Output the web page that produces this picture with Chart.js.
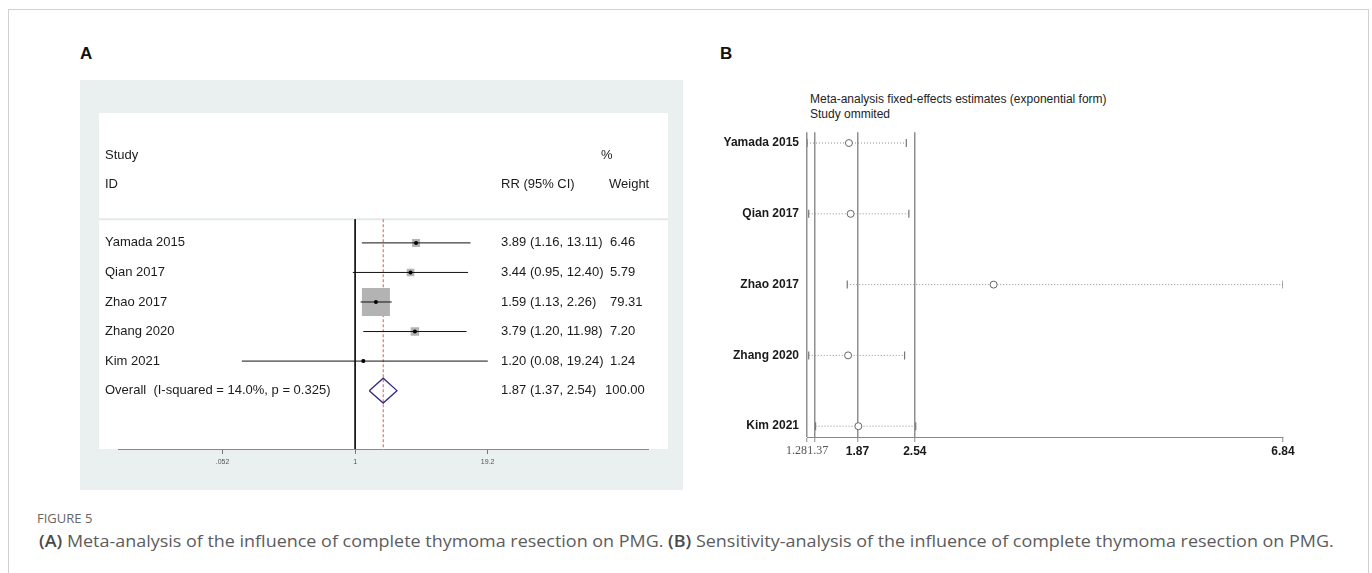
<!DOCTYPE html>
<html>
<head>
<meta charset="utf-8">
<script src="https://cdn.jsdelivr.net/npm/chart.js@4/dist/chart.umd.min.js"></script>
<style>
body{margin:0;width:1372px;height:573px;background:#fff;position:relative;overflow:hidden;font-family:"Liberation Sans",Arial,sans-serif}
#frame{position:absolute;left:8px;top:9px;width:1359px;height:620px;border:1px solid #d2d2d2}
.lab{position:absolute;font-weight:bold;font-size:17px;line-height:17px;color:#111}
#boxA{position:absolute;left:80px;top:80px;width:603px;height:410px;background:#e9f0ef}
#whiteA{position:absolute;left:99px;top:113px;width:569px;height:336px;background:#fff}
#chartA{position:absolute;left:99px;top:113px}
#chartB{position:absolute;left:672px;top:117px}
#titleB{position:absolute;left:810px;top:92px;font-size:12px;line-height:15px;color:#222}
#figno{position:absolute;left:37px;top:510px;font-family:"Open Sans",sans-serif;font-size:13px;line-height:16px;color:#666}
#cap{position:absolute;left:39px;top:531px;font-family:"Open Sans",sans-serif;font-size:16px;line-height:20px;color:#5c5c5c;white-space:nowrap;transform-origin:0 0}
#cap b{color:#4a4a4a;font-weight:600}
</style>
</head>
<body>
<div id="frame"></div>
<div class="lab" style="left:80px;top:45px">A</div>
<div class="lab" style="left:720px;top:45px">B</div>
<div id="boxA"></div>
<div id="whiteA"></div>
<canvas id="chartA" width="569" height="370"></canvas>
<div id="titleB">Meta-analysis fixed-effects estimates (exponential form)<br>Study ommited</div>
<canvas id="chartB" width="629" height="350"></canvas>
<div id="figno">FIGURE 5</div>
<div id="cap"><b>(A)</b> Meta-analysis of the influence of complete thymoma resection on PMG. <b>(B)</b> Sensitivity-analysis of the influence of complete thymoma resection on PMG.</div>

<script>
// panel A - forest plot
var studiesA = ['Yamada 2015', 'Qian 2017', 'Zhao 2017', 'Zhang 2020', 'Kim 2021'];
var rrA = [3.89, 3.44, 1.59, 3.79, 1.20];
var lowA = [1.16, 0.95, 1.13, 1.20, 0.08];
var highA = [13.11, 12.40, 2.26, 11.98, 19.24];
var weightA = [6.46, 5.79, 79.31, 7.20, 1.24];
var overallLabel = 'Overall  (I-squared = 14.0%, p = 0.325)';
var overallA = [1.87, 1.37, 2.54];
var overallWeight = '100.00';
var ticksA = [0.052, 1, 19.2];
var tickLabelsA = ['.052', '1', '19.2'];

// panel B - sensitivity analysis (study omitted)
var studiesB = ['Yamada 2015', 'Qian 2017', 'Zhao 2017', 'Zhang 2020', 'Kim 2021'];
var estB = [1.77, 1.79, 3.46, 1.76, 1.88];
var lowB = [1.28, 1.30, 1.75, 1.30, 1.38];
var highB = [2.44, 2.47, 6.84, 2.42, 2.55];
var ticksB = [1.28, 1.37, 1.87, 2.54, 6.84];

var FONT = '"Liberation Sans", Arial, sans-serif';
var nRow = studiesA.length;

//FOREST CHART
var dsA = [];
for (var i = 0; i < nRow; i++) {
    dsA.push({
        data: [{x: lowA[i], y: i}, {x: highA[i], y: i}],
        showLine: true, borderColor: '#111', borderWidth: 1, pointRadius: 0, order: 2
    });
}
dsA.push({
    data: rrA.map(function (v, i) { return {x: v, y: i}; }),
    pointStyle: 'rect',
    pointRadius: weightA.map(function (w) { return 28 * Math.sqrt(w / 79.31) / Math.SQRT2; }),
    backgroundColor: '#b3b3b3', borderWidth: 0, order: 3
});
dsA.push({
    data: rrA.map(function (v, i) { return {x: v, y: i}; }),
    pointStyle: 'circle', pointRadius: 2, backgroundColor: '#000', borderWidth: 0, order: 1
});
var dh = 0.42;
dsA.push({
    data: [
        {x: overallA[1], y: nRow}, {x: overallA[0], y: nRow - dh},
        {x: overallA[2], y: nRow}, {x: overallA[0], y: nRow + dh},
        {x: overallA[1], y: nRow}
    ],
    showLine: true, borderColor: '#2c2c88', borderWidth: 1.3, pointRadius: 0, order: 1
});
dsA.push({
    data: [{x: 1, y: -0.8}, {x: 1, y: 7}],
    showLine: true, borderColor: '#111', borderWidth: 1, pointRadius: 0, order: 4
});
dsA.push({
    data: [{x: overallA[0], y: -0.8}, {x: overallA[0], y: 7}],
    showLine: true, borderColor: '#d65a5a', borderWidth: 1, borderDash: [3, 2], pointRadius: 0, order: 4
});

var textA = {
    id: 'textA',
    beforeDatasetsDraw: function (chart) {
        var ctx = chart.ctx, y = chart.scales.y.getPixelForValue(-0.8);
        ctx.save();
        ctx.strokeStyle = '#e3e9e9';
        ctx.lineWidth = 2;
        ctx.beginPath();
        ctx.moveTo(0, y);
        ctx.lineTo(chart.width, y);
        ctx.stroke();
        ctx.restore();
    },
    afterDraw: function (chart) {
        var ctx = chart.ctx, ys = chart.scales.y;
        ctx.save();
        ctx.font = '13px ' + FONT;
        ctx.fillStyle = '#1b1b1b';
        ctx.textBaseline = 'middle';
        ctx.fillText('Study', 6, ys.getPixelForValue(-2.96));
        ctx.fillText('%', 502, ys.getPixelForValue(-2.96));
        ctx.fillText('ID', 6, ys.getPixelForValue(-1.97));
        ctx.fillText('RR (95% CI)', 402, ys.getPixelForValue(-1.97));
        ctx.fillText('Weight', 510, ys.getPixelForValue(-1.97));
        for (var i = 0; i < nRow; i++) {
            var py = ys.getPixelForValue(i);
            ctx.fillText(studiesA[i], 6, py);
            ctx.fillText(rrA[i].toFixed(2) + ' (' + lowA[i].toFixed(2) + ', ' + highA[i].toFixed(2) + ')', 402, py);
            ctx.fillText(weightA[i].toFixed(2), 511, py);
        }
        var po = ys.getPixelForValue(nRow);
        ctx.fillText(overallLabel, 6, po);
        ctx.fillText(overallA[0].toFixed(2) + ' (' + overallA[1].toFixed(2) + ', ' + overallA[2].toFixed(2) + ')', 402, po);
        ctx.fillText(overallWeight, 506, po);
        ctx.restore();
    }
};

var forestChart = new Chart(document.getElementById('chartA').getContext('2d'), {
    type: 'scatter',
    data: {datasets: dsA},
    options: {
        responsive: false,
        animation: false,
        events: [],
        devicePixelRatio: 1,
        layout: {padding: 0},
        plugins: {legend: {display: false}, tooltip: {enabled: false}},
        scales: {
            x: {
                type: 'logarithmic',
                min: 0.00515,
                max: 688,
                afterBuildTicks: function (s) { s.ticks = ticksA.map(function (v) { return {value: v}; }); },
                afterFit: function (s) { s.height = 34; },
                ticks: {
                    autoSkip: false, maxRotation: 0, padding: 4,
                    font: {family: FONT, size: 7}, color: '#555',
                    callback: function (v) { var k = ticksA.indexOf(v); return k >= 0 ? tickLabelsA[k] : ''; }
                },
                grid: {drawOnChartArea: false, tickLength: 5, tickColor: '#777'},
                border: {color: '#8a8a8a'}
            },
            y: {type: 'linear', min: -3.726, max: 6.975, reverse: true, display: false}
        }
    },
    plugins: [textA]
});
//END FOREST CHART

//SENSITIVITY CHART
var dsB = [];
for (var j = 0; j < studiesB.length; j++) {
    dsB.push({
        data: [{x: lowB[j], y: j}, {x: highB[j], y: j}],
        showLine: true, borderColor: '#8c8c8c', borderWidth: 1, borderDash: [1, 2],
        pointStyle: 'line', pointRotation: 90, pointRadius: 4,
        pointBorderColor: '#777', pointBorderWidth: 1.2, order: 2
    });
}
dsB.push({
    data: estB.map(function (v, i) { return {x: v, y: i}; }),
    pointStyle: 'circle', pointRadius: 3.5, backgroundColor: '#fff',
    borderColor: '#666', borderWidth: 1, order: 1
});

var sensChart = new Chart(document.getElementById('chartB').getContext('2d'), {
    type: 'scatter',
    data: {datasets: dsB},
    options: {
        responsive: false,
        animation: false,
        events: [],
        devicePixelRatio: 1,
        layout: {padding: {top: 10, right: 18, left: 0, bottom: 0}},
        plugins: {legend: {display: false}, tooltip: {enabled: false}},
        scales: {
            x: {
                type: 'linear',
                min: ticksB[0],
                max: ticksB[ticksB.length - 1],
                afterBuildTicks: function (s) { s.ticks = ticksB.map(function (v) { return {value: v}; }); },
                afterFit: function (s) { s.height = 30; },
                ticks: {
                    autoSkip: false, maxRotation: 0, minRotation: 0, padding: 2,
                    font: function (c) {
                        return c.index < 2 ? {family: '"Liberation Serif", serif', size: 12} : {family: FONT, size: 12, weight: 'bold'};
                    },
                    color: function (c) { return c.index < 2 ? '#555' : '#1a1a1a'; },
                    callback: function (v, idx) {
                        var t = v.toFixed(2);
                        if (idx === 0) return t + '       ';
                        if (idx === 1) return '  ' + t;
                        return t;
                    }
                },
                grid: {
                    color: function (c) { return c.tick && c.tick.value === ticksB[ticksB.length - 1] ? 'rgba(0,0,0,0)' : '#8f8f8f'; },
                    lineWidth: 1.5,
                    tickLength: 5, tickColor: '#888', tickWidth: 1
                },
                border: {color: '#8a8a8a'}
            },
            y: {
                type: 'linear', min: -0.153, max: 4.153, reverse: true,
                afterBuildTicks: function (s) { s.ticks = studiesB.map(function (n, i) { return {value: i}; }); },
                afterFit: function (s) { s.width = 135; },
                ticks: {
                    padding: 8, font: {family: FONT, size: 12, weight: 'bold'}, color: '#1a1a1a',
                    callback: function (v) { return studiesB[v]; }
                },
                grid: {display: false, drawTicks: false},
                border: {display: false}
            }
        }
    }
});
//END SENSITIVITY CHART

var cap = document.getElementById('cap');
cap.style.transform = 'scaleX(' + (1295 / cap.scrollWidth) + ')';
</script>
</body>
</html>
